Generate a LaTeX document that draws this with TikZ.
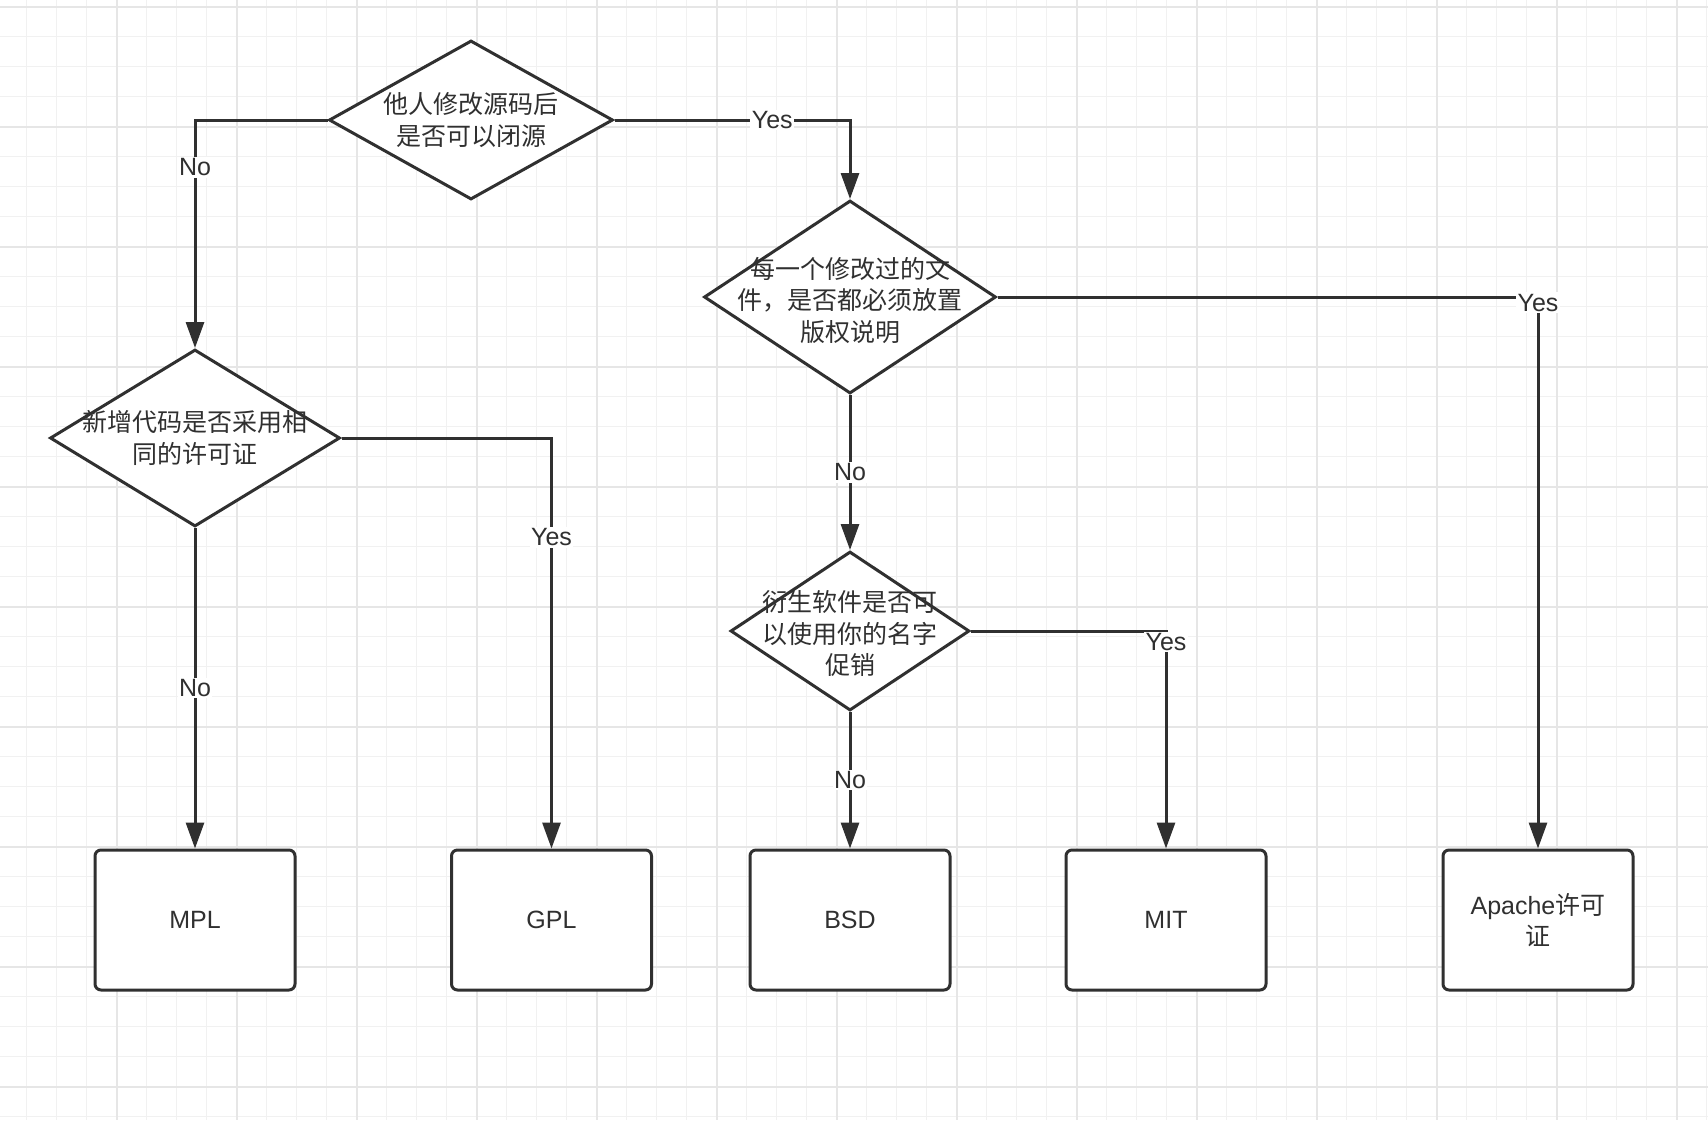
\documentclass[tikz,border=0pt]{standalone}
\usepackage{fontspec}
\setmainfont{Liberation Sans}
\newfontfamily\cjk{Noto Sans CJK SC}
\usetikzlibrary{arrows.meta, shapes.geometric}
\definecolor{lineDark}{HTML}{303030}
\definecolor{gridMinor}{HTML}{F1F1F1}
\definecolor{gridMajor}{HTML}{E6E6E6}

\begin{document}
\begin{tikzpicture}[x=1pt, y=-1pt,
    decision/.style={diamond, draw=lineDark, line width=3pt, fill=white, inner sep=0pt},
    qtext/.style={font=\fontsize{25}{31.5}\selectfont\cjk, text=lineDark, align=center},
    licence/.style={rectangle, rounded corners=6pt, draw=lineDark, line width=3pt,
      fill=white, minimum width=200pt, minimum height=140pt,
      font=\fontsize{25}{31.5}\selectfont, text=lineDark, align=center},
    flow/.style={draw=lineDark, line width=3pt, -{Triangle[length=26pt, width=18pt]}},
    answer/.style={fill=white, inner sep=1.5pt, font=\fontsize{25}{30}\selectfont, text=lineDark}]
  \useasboundingbox (0,0) rectangle (1708,1120);
  \fill[white] (0,0) rectangle (1708,1120);
  \foreach \gx in {0,...,56}
    \draw[gridMinor, line width=1.5pt] ({26.7+30*\gx},0) -- ++(0,1120);
  \foreach \gy in {0,...,37}
    \draw[gridMinor, line width=1.5pt] (0,{6.7+30*\gy}) -- ++(1708,0);
  \foreach \gx in {1,...,14}
    \draw[gridMajor, line width=2pt] ({-3.3+120*\gx},0) -- ++(0,1120);
  \foreach \gy in {0,...,9}
    \draw[gridMajor, line width=2pt] (0,{6.7+120*\gy}) -- ++(1708,0);

  \node[decision, minimum width=284pt, minimum height=159pt] (closed) at (471,120) {};
  \node[qtext] at (closed) {他人修改源码后\\是否可以闭源};
  \node[decision, minimum width=292pt, minimum height=193pt] (notice) at (850,297) {};
  \node[qtext] at ([yshift=-3pt]notice.center) {每一个修改过的文\\件，是否都必须放置\\版权说明};
  \node[decision, minimum width=239pt, minimum height=159pt] (promo) at (850,631) {};
  \node[qtext] at ([yshift=-3pt]promo.center) {衍生软件是否可\\以使用你的名字\\促销};
  \node[decision, minimum width=290pt, minimum height=177pt] (samelic) at (195,438) {};
  \node[qtext] at (samelic) {新增代码是否采用相\\同的许可证};

  \node[licence] (mpl) at (195,920) {MPL};
  \node[licence] (gpl) at (551.5,920) {GPL};
  \node[licence] (bsd) at (850,920) {BSD};
  \node[licence] (mit) at (1166,920) {MIT};
  \node[licence, minimum width=190pt] (apache) at (1538,920) {Apache{\cjk 许可}\\{\cjk 证}};

  \draw[flow] (closed.west) -| node[answer, pos=0.604] {No} (samelic.north);
  \draw[flow] (closed.east) -| node[answer, pos=0.335] {Yes} (notice.north);
  \draw[flow] (notice.east) -| node[answer, pos=0.505] {Yes} (apache.north);
  \draw[flow] (notice.south) -- node[answer] {No} (promo.north);
  \draw[flow] (promo.east) -| node[answer, pos=0.525] {Yes} (mit.north);
  \draw[flow] (promo.south) -- node[answer] {No} (bsd.north);
  \draw[flow] (samelic.south) -- node[answer] {No} (mpl.north);
  \draw[flow] (samelic.east) -| node[answer, pos=0.621] {Yes} (gpl.north);
\end{tikzpicture}
\end{document}
